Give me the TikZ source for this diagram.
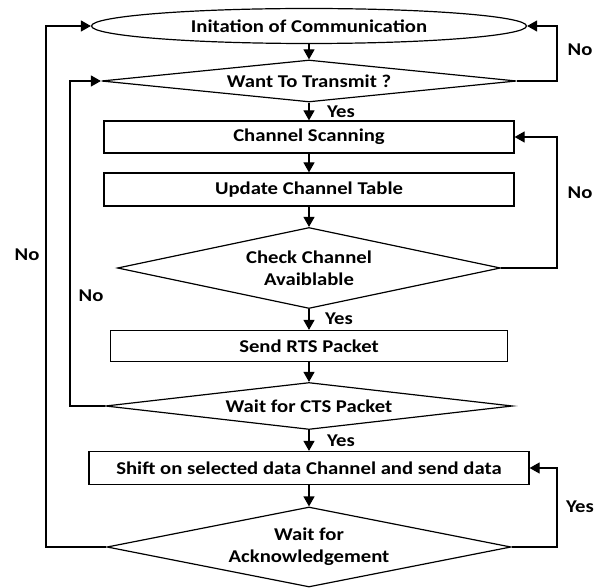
\documentclass[tikz,border=0pt]{standalone}
\usepackage{fontspec}
\setmainfont{Carlito}[FakeStretch=1.15]
\usetikzlibrary{shapes.geometric,arrows.meta}
\begin{document}
\begin{tikzpicture}[x=0.5pt,y=-0.5pt,line width=0.6pt]
\tikzstyle{every node}+=[inner sep=0pt,font=\bfseries\fontsize{9}{11}\selectfont]
\tikzstyle{box}=[draw,rectangle]
\tikzstyle{decide}=[draw,diamond,align=center]
\tikzstyle{arr}=[-{Triangle[length=5pt,width=5.5pt]}]
\useasboundingbox (0,0) rectangle (600,588);
\coordinate (lx) at (46,0);
\coordinate (ix) at (70,0);
\coordinate (rx) at (557,0);
\node [draw,ellipse,minimum width=217.5pt,minimum height=17.5pt] (init) at (309,26) {Initation of Communication};
\node [decide,aspect=10,minimum width=207.5pt,minimum height=21pt] (want) at (309,81) {Want To Transmit ?};
\node [box,minimum width=205pt,minimum height=16pt] (scan) at (309,137) {Channel Scanning};
\node [box,minimum width=205pt,minimum height=16.5pt] (table) at (309,189.5) {Update Channel Table};
\node [decide,aspect=4.7,minimum width=191.5pt,minimum height=40.5pt] (check) at (309,268) {Check Channel\\Avaiblable};
\node [box,minimum width=198.5pt,minimum height=15.5pt] (rts) at (309,346) {Send RTS Packet};
\node [decide,aspect=8.7,minimum width=203.5pt,minimum height=23.5pt] (cts) at (309,406) {Wait for CTS Packet};
\node [box,minimum width=220pt,minimum height=16.5pt] (send) at (309,468) {Shift on selected data Channel and send data};
\node [decide,aspect=5,minimum width=202pt,minimum height=40pt] (ack) at (309,547) {Wait for\\Acknowledgement};
% labels
\node (no1) at (580,50) {No};
\node (no2) at (580,193) {No};
\node (no3) at (27,255) {No};
\node (no4) at (91,296) {No};
\node (yes1) at (341,112) {Yes};
\node (yes2) at (339,319) {Yes};
\node (yes3) at (341,441) {Yes};
\node (yes4) at (580,507) {Yes};
% main flow
\draw [arr] (init.south) -- (want.north);
\draw [arr] (want.south) -- (scan.north);
\draw [arr] (scan.south) -- (table.north);
\draw [arr] (table.south) -- (check.north);
\draw [arr] (check.south) -- (rts.north);
\draw [arr] (rts.south) -- (cts.north);
\draw [arr] (cts.south) -- (send.north);
\draw [arr] (send.south) -- (ack.north);
% loops
\draw [arr] (want.east) -- (want.east -| rx) |- (init.east);
\draw [arr] (check.east) -- (check.east -| rx) |- (scan.east);
\draw [arr] (ack.east) -- (ack.east -| rx) |- (send.east);
\draw [arr] (cts.west) -- (cts.west -| ix) |- (want.west);
\draw [arr] (ack.west) -- (ack.west -| lx) |- (init.west);
\end{tikzpicture}
\end{document}
